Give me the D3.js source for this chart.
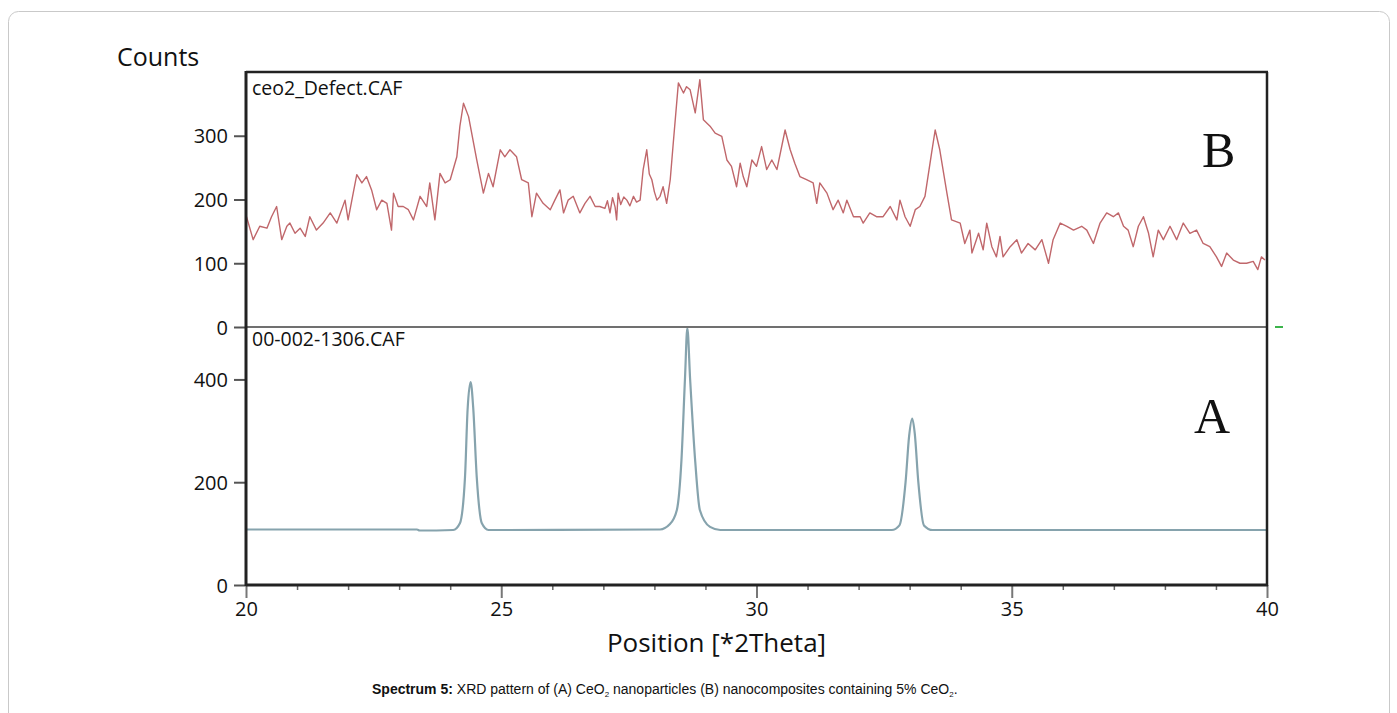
<!DOCTYPE html>
<html>
<head>
<meta charset="utf-8">
<script src="https://cdn.jsdelivr.net/npm/d3@7"></script>
<style>
  html, body { margin: 0; padding: 0; background: #fff; }
  svg { display: block; }
</style>
</head>
<body>
<div id="chart"></div>
<script>
(function(){

// sample B: ceo2_Defect.CAF (upper panel)
const thetaB = [20.01,20.14,20.27,20.41,20.50,20.60,20.70,20.80,20.86,20.96,21.06,21.16,21.25,21.38,21.51,21.65,21.78,21.94,22.00,22.10,
  22.17,22.27,22.36,22.46,22.56,22.66,22.76,22.85,22.89,22.98,23.08,23.18,23.28,23.41,23.54,23.60,23.70,23.80,23.90,24.00,
  24.13,24.19,24.26,24.36,24.52,24.65,24.75,24.84,24.98,25.07,25.17,25.30,25.40,25.53,25.60,25.69,25.82,25.96,26.05,26.15,
  26.22,26.31,26.41,26.54,26.64,26.74,26.84,26.93,27.03,27.08,27.13,27.18,27.23,27.26,27.29,27.34,27.40,27.46,27.52,27.59,
  27.65,27.72,27.78,27.85,27.90,27.95,28.00,28.05,28.11,28.17,28.24,28.31,28.37,28.47,28.57,28.63,28.70,28.80,28.89,28.96,
  29.09,29.19,29.32,29.42,29.51,29.61,29.68,29.74,29.81,29.91,30.00,30.10,30.20,30.30,30.40,30.56,30.66,30.75,30.85,30.98,
  31.11,31.18,31.24,31.38,31.50,31.60,31.70,31.77,31.90,32.03,32.09,32.22,32.35,32.48,32.62,32.75,32.81,32.91,33.01,33.11,
  33.20,33.30,33.43,33.50,33.59,33.73,33.82,33.99,34.08,34.18,34.22,34.35,34.44,34.51,34.61,34.70,34.77,34.83,34.97,35.10,
  35.19,35.32,35.46,35.59,35.72,35.81,35.95,36.08,36.21,36.37,36.47,36.60,36.73,36.86,36.99,37.09,37.19,37.28,37.38,37.48,
  37.58,37.68,37.77,37.87,37.97,38.10,38.23,38.36,38.49,38.62,38.75,38.88,39.01,39.11,39.21,39.34,39.47,39.60,39.73,39.82,
  39.89,39.96];
const countsB = [173,137,158,155,173,189,137,158,163,147,155,142,173,152,163,179,163,199,168,210,
  239,226,236,215,184,199,194,152,210,189,189,184,168,205,189,226,168,241,226,231,
  267,315,351,330,262,210,241,220,278,267,278,267,231,226,173,210,194,184,199,215,
  179,199,205,179,194,205,189,189,186,198,179,203,188,168,210,192,204,199,190,205,
  196,199,247,278,240,231,212,199,205,220,194,231,289,383,367,377,372,336,388,325,
  315,304,299,262,252,220,257,236,220,262,252,283,247,262,247,309,278,257,236,231,
  226,194,226,210,184,199,179,199,173,173,163,179,173,173,189,168,199,173,158,184,
  189,205,273,309,278,210,168,163,131,152,116,147,121,163,126,110,142,110,126,137,
  116,131,121,137,100,137,163,158,152,158,152,131,163,179,173,179,158,152,126,158,
  173,147,110,152,137,158,137,163,147,152,131,126,110,95,116,105,100,100,103,90,
  110,105];

// sample A: 00-002-1306.CAF reference pattern (lower panel)
const thetaA = [20.00,23.35,23.40,24.06,24.19,24.29,24.34,24.40,24.45,24.52,24.62,24.75,
  28.11,28.30,28.44,28.53,28.60,28.645,28.70,28.80,28.89,29.09,29.29,
  32.65,32.80,32.92,32.99,33.05,33.10,33.17,33.28,33.45,40.00];
const countsA = [108,108,106,107,120,210,340,395,346,210,120,107,
  108,118,146,243,404,500,400,240,146,113,107,
  107,116,200,290,324,295,200,116,107,107];

const xTicks = [20, 25, 30, 35, 40];
const yTicksB = [0, 100, 200, 300];
const yTicksA = [0, 200, 400];

const W = 1397, H = 713;
const left = 246, right = 1267, top = 72, mid = 327, bottom = 585;

const svg = d3.select("#chart").append("svg")
  .attr("width", W).attr("height", H);

// card border
svg.append("rect")
  .attr("x", 8.5).attr("y", 11.5)
  .attr("width", 1381).attr("height", 740)
  .attr("rx", 10)
  .attr("fill", "#fff")
  .attr("stroke", "#c9c9c9");

const x = d3.scaleLinear().domain([20, 40]).range([left, right]);
const yB = d3.scaleLinear().domain([0, 400]).range([mid, top]);
const yA = d3.scaleLinear().domain([0, 502]).range([bottom, mid]);

const font = "'Open Sans', 'Noto Sans', sans-serif";

// y axes
function yAxis(scale, ticks) {
  const g = svg.append("g")
    .attr("transform", `translate(${left},0)`)
    .call(d3.axisLeft(scale).tickValues(ticks).tickSize(12).tickPadding(6));
  g.select(".domain").remove();
  g.selectAll("line").attr("stroke", "#555").attr("stroke-width", 2);
  g.selectAll("text")
    .attr("font-family", font).attr("font-size", 20).attr("fill", "#111")
    .attr("dy", "0.36em");
  return g;
}
yAxis(yB, yTicksB);
yAxis(yA, yTicksA);

// x axis: minor and major ticks
const minor = d3.range(20, 41, 1).filter(v => !xTicks.includes(v));
const gMinor = svg.append("g")
  .attr("transform", `translate(0,${bottom})`)
  .call(d3.axisBottom(x).tickValues(minor).tickSize(5).tickFormat(""));
gMinor.select(".domain").remove();
gMinor.selectAll("line").attr("stroke", "#666").attr("stroke-width", 1.5);

const gx = svg.append("g")
  .attr("transform", `translate(0,${bottom})`)
  .call(d3.axisBottom(x).tickValues(xTicks).tickSize(13).tickPadding(4));
gx.select(".domain").remove();
gx.selectAll("line").attr("stroke", "#777").attr("stroke-width", 2);
gx.selectAll("text")
  .attr("font-family", font).attr("font-size", 20).attr("fill", "#111");

// curves
const lineB = d3.line()
  .x((d, i) => x(thetaB[i]))
  .y((d, i) => yB(countsB[i]));
svg.append("path")
  .attr("d", lineB(countsB))
  .attr("fill", "none")
  .attr("stroke", "#c0676b")
  .attr("stroke-width", 1.4)
  .attr("stroke-linejoin", "round");

const lineA = d3.line()
  .curve(d3.curveMonotoneX)
  .x((d, i) => x(thetaA[i]))
  .y((d, i) => yA(countsA[i]));
svg.append("path")
  .attr("d", lineA(countsA))
  .attr("fill", "none")
  .attr("stroke", "#86a3ad")
  .attr("stroke-width", 2.2)
  .attr("stroke-linejoin", "round");

// frame
svg.append("line")
  .attr("x1", left).attr("x2", right).attr("y1", mid).attr("y2", mid)
  .attr("stroke", "#707070").attr("stroke-width", 2.2);
svg.append("line")
  .attr("x1", left).attr("x2", right + 1).attr("y1", top).attr("y2", top)
  .attr("stroke", "#222").attr("stroke-width", 2.5);
svg.append("line")
  .attr("x1", right).attr("x2", right).attr("y1", top).attr("y2", bottom + 1)
  .attr("stroke", "#222").attr("stroke-width", 2.5);
svg.append("line")
  .attr("x1", left).attr("x2", left).attr("y1", top - 1).attr("y2", bottom + 1)
  .attr("stroke", "#222").attr("stroke-width", 3);
svg.append("line")
  .attr("x1", left).attr("x2", right + 1).attr("y1", bottom).attr("y2", bottom)
  .attr("stroke", "#222").attr("stroke-width", 3);

// little green marker beside the divider
svg.append("line")
  .attr("x1", right + 8).attr("x2", right + 16).attr("y1", mid).attr("y2", mid)
  .attr("stroke", "#3cb44b").attr("stroke-width", 2);

// texts
svg.append("text")
  .attr("x", 117).attr("y", 66)
  .attr("font-family", font).attr("font-size", 25).attr("fill", "#111")
  .text("Counts");

svg.append("text")
  .attr("x", 252).attr("y", 95)
  .attr("font-family", font).attr("font-size", 19.5).attr("fill", "#111")
  .text("ceo2_Defect.CAF");

svg.append("text")
  .attr("x", 252).attr("y", 346)
  .attr("font-family", font).attr("font-size", 19.5).attr("fill", "#111")
  .text("00-002-1306.CAF");

svg.append("text")
  .attr("x", 1202).attr("y", 167)
  .attr("font-family", "'Liberation Serif', 'Times New Roman', serif")
  .attr("font-size", 50).attr("fill", "#111")
  .text("B");

svg.append("text")
  .attr("x", 1194).attr("y", 433)
  .attr("font-family", "'Liberation Serif', 'Times New Roman', serif")
  .attr("font-size", 50).attr("fill", "#111")
  .text("A");

svg.append("text")
  .attr("x", (left + right) / 2 - 40).attr("y", 652)
  .attr("text-anchor", "middle")
  .attr("font-family", font).attr("font-size", 26).attr("fill", "#111")
  .text("Position [*2Theta]");

const cap = svg.append("text")
  .attr("x", 372).attr("y", 694)
  .attr("font-family", "'Liberation Sans', Arial, sans-serif")
  .attr("font-size", 14).attr("fill", "#111");
cap.append("tspan").attr("font-weight", "bold").text("Spectrum 5:");
cap.append("tspan").text(" XRD pattern of (A) CeO");
cap.append("tspan").attr("font-size", 8).attr("dy", 3).text("2");
cap.append("tspan").attr("dy", -3).text(" nanoparticles (B) nanocomposites containing 5% CeO");
cap.append("tspan").attr("font-size", 8).attr("dy", 3).text("2");
cap.append("tspan").attr("dy", -3).text(".");

})();
</script>
</body>
</html>
